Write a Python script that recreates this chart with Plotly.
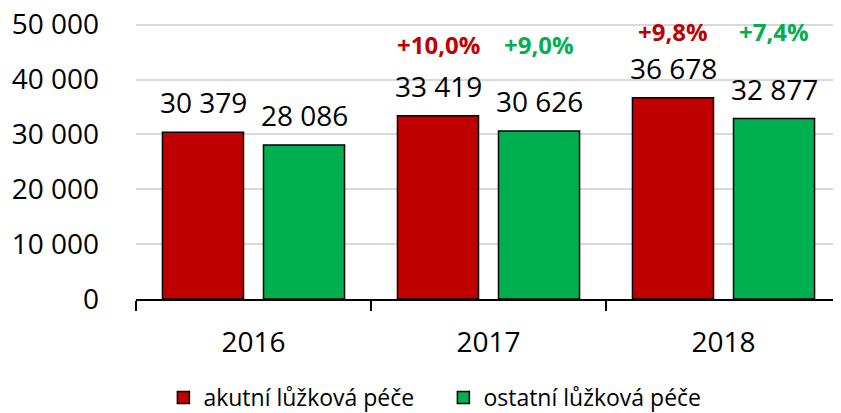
import plotly.graph_objects as go

years = ["2016", "2017", "2018"]
acute = [30379, 33419, 36678]
other = [28086, 30626, 32877]
acute_pct = ["", "+10,0%", "+9,8%"]
other_pct = ["", "+9,0%", "+7,4%"]
pct_y = [None, 46300, 48700]
series_names = ["akutní lůžková péče", "ostatní lůžková péče"]
y_ticks = [0, 10000, 20000, 30000, 40000, 50000]

RED = "#C00000"
GREEN = "#00B050"
FONT = "Open Sans"

fig = go.Figure()
fig.add_trace(go.Bar(x=years, y=acute, name=series_names[0],
                     marker=dict(color=RED, line=dict(color="black", width=1.5))))
fig.add_trace(go.Bar(x=years, y=other, name=series_names[1],
                     marker=dict(color=GREEN, line=dict(color="black", width=1.5))))

def fmt(v):
    return f"{v:,}".replace(",", " ")

ann = []
for i, yr in enumerate(years):
    for vals, shift in ((acute, -50.5), (other, 50.5)):
        ann.append(dict(x=i, y=vals[i], xref="x", yref="y", xshift=shift, yshift=9,
                        yanchor="bottom", text=fmt(vals[i]), showarrow=False,
                        font=dict(family=FONT, size=28, color="black")))
    if pct_y[i] is not None:
        ann.append(dict(x=i, y=pct_y[i], xref="x", yref="y", xshift=-50.5,
                        text=f"<b>{acute_pct[i]}</b>", showarrow=False,
                        font=dict(family=FONT, size=24, color=RED)))
        ann.append(dict(x=i, y=pct_y[i], xref="x", yref="y", xshift=50.5,
                        text=f"<b>{other_pct[i]}</b>", showarrow=False,
                        font=dict(family=FONT, size=24, color=GREEN)))

# the page body has an 8px margin, so the figure is sized to fit 841x413 window
fig.update_layout(
    width=833, height=405,
    margin=dict(l=128, r=0, t=15, b=114, autoexpand=False),
    plot_bgcolor="white", paper_bgcolor="white",
    separators=", ",
    bargap=0.14, bargroupgap=0.198,
    font=dict(family=FONT, size=28, color="black"),
    annotations=ann,
    showlegend=True,
    legend=dict(orientation="h", x=0.436, xanchor="center", y=-0.357, yanchor="middle",
                font=dict(family=FONT, size=23, color="black"),
                itemwidth=30, entrywidth=235, traceorder="normal"),
)
fig.update_yaxes(range=[0, 50300], tickvals=y_ticks, tickformat=",d",
                 showgrid=True, gridcolor="#D9D9D9", gridwidth=1.5,
                 showline=False, zeroline=False, ticks="",
                 ticklabeloverflow="allow",
                 ticklabelstandoff=36, tickfont=dict(family=FONT, size=28))
fig.update_xaxes(type="category", range=[-0.5, len(years) - 0.5],
                 showline=True, linecolor="black", linewidth=1.5,
                 ticks="outside", tickson="boundaries", ticklen=10, tickcolor="black",
                 tickwidth=1.5, ticklabelstandoff=18, tickangle=0,
                 tickfont=dict(family=FONT, size=28))

fig.write_html("out.html")
